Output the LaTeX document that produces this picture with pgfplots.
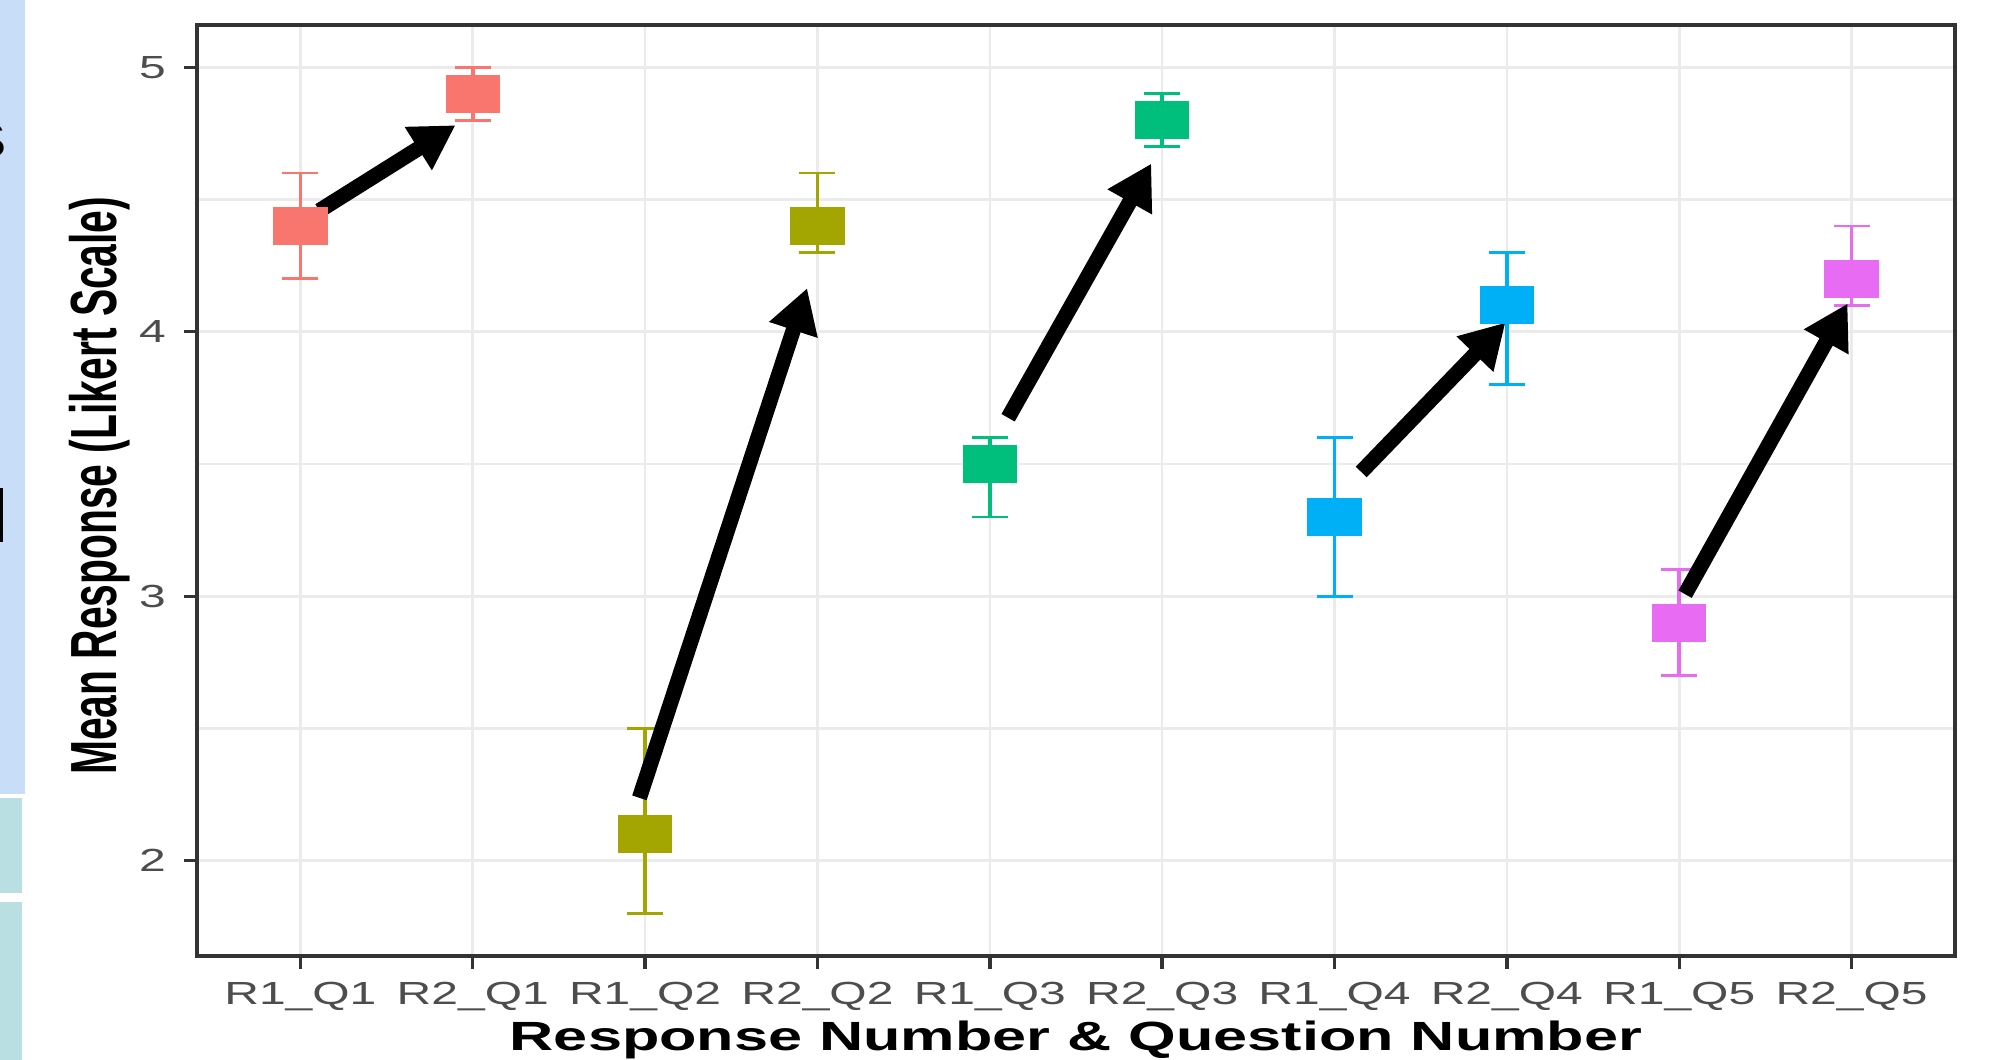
\documentclass[border=0pt]{standalone}
\usepackage{fontspec}
\setmainfont{Liberation Sans}
\usepackage{graphicx}
\usepackage{pgfplots}
\pgfplotsset{compat=1.18}
\usetikzlibrary{arrows.meta}
\definecolor{cQ1}{HTML}{F8766D}
\definecolor{cQ2}{HTML}{A3A500}
\definecolor{cQ3}{HTML}{00BF7D}
\definecolor{cQ4}{HTML}{00B0F6}
\definecolor{cQ5}{HTML}{E76BF3}
\definecolor{gridgrey}{HTML}{EBEBEB}
\definecolor{axisgrey}{HTML}{333333}
\definecolor{tickgrey}{HTML}{4D4D4D}
\definecolor{stripblue}{HTML}{C7DDF8}
\definecolor{stripteal}{HTML}{B9DFE2}
\newcommand{\SX}[1]{\scalebox{1.5}[1]{#1}}
\pgfplotsset{
  ebar/.style={forget plot, draw=none, mark=none,
    error bars/.cd, y dir=both, y explicit,
    error bar style={draw=#1, line width=0.9pt},
    error mark=-,
    error mark options={rotate=90, draw=#1, mark size=4.5pt, line width=0.7pt}},
  pt/.style={only marks, color=#1, mark=square*, mark size=4.6pt,
    mark options={xscale=1.45, fill=#1, draw=#1, line width=0pt}},
  arr/.style={black, line width=3.8pt, -{Triangle[length=11pt,width=12pt]}, mark=none}
}
\begin{document}
\begin{tikzpicture}
\path[use as bounding box] (0,0) rectangle (498pt,265pt);
\fill[stripblue] (0,66.5pt) rectangle (6.25pt,265pt);
\fill[stripteal] (0,41.75pt) rectangle (5.5pt,65.5pt);
\fill[stripteal] (0,0) rectangle (5.5pt,39.5pt);
\node[anchor=east, inner sep=0pt, font=\fontsize{18}{20}\selectfont\bfseries] at (2.4pt,230pt) {\scalebox{1.5}[1]{s}};
\fill[black] (0,129.5pt) rectangle (0.8pt,143pt);
\begin{axis}[
  at={(49.25pt,26pt)}, anchor=south west,
  scale only axis, width=439.5pt, height=232.75pt,
  xmin=-0.6, xmax=9.6, ymin=1.64, ymax=5.16,
  xtick={0,1,2,3,4,5,6,7,8,9},
  xticklabels={\SX{R1\_Q1},\SX{R2\_Q1},\SX{R1\_Q2},\SX{R2\_Q2},\SX{R1\_Q3},\SX{R2\_Q3},\SX{R1\_Q4},\SX{R2\_Q4},\SX{R1\_Q5},\SX{R2\_Q5}},
  ytick={2,3,4,5},
  yticklabels={\SX{2},\SX{3},\SX{4},\SX{5}},
  minor ytick={2.5,3.5,4.5},
  grid=both,
  major grid style={draw=gridgrey, line width=0.65pt},
  minor grid style={draw=gridgrey, line width=0.65pt},
  axis line style={draw=axisgrey, line width=0.85pt},
  tick style={draw=axisgrey, line width=0.85pt},
  tick align=outside, major tick length=3.2pt, minor tick length=0pt,
  xtick pos=bottom, ytick pos=left,
  ticklabel style={font=\fontsize{8}{9}\selectfont, text=tickgrey},
  xticklabel style={anchor=base, inner sep=0pt, yshift=-9pt},
  yticklabel style={anchor=east, inner sep=0pt, xshift=-4.4pt},
  xlabel={\scalebox{1.5}[1]{\bfseries Response Number \& Question Number}},
  ylabel={\scalebox{1}[1.6]{\bfseries Mean Response (Likert Scale)}},
  label style={font=\fontsize{10.2}{12}\selectfont, text=black},
  xlabel style={at={(axis description cs:0.5,0)}, anchor=base, inner sep=0pt, yshift=-23.5pt},
  ylabel style={at={(axis description cs:-0.0555,0.505)}, anchor=center, inner sep=0pt},
]
% error bars
\addplot[ebar=cQ1] coordinates {(0,4.4) += (0,0.2) -= (0,0.2) (1,4.9) += (0,0.1) -= (0,0.1)};
\addplot[ebar=cQ2] coordinates {(2,2.1) += (0,0.4) -= (0,0.3) (3,4.4) += (0,0.2) -= (0,0.1)};
\addplot[ebar=cQ3] coordinates {(4,3.5) += (0,0.1) -= (0,0.2) (5,4.8) += (0,0.1) -= (0,0.1)};
\addplot[ebar=cQ4] coordinates {(6,3.3) += (0,0.3) -= (0,0.3) (7,4.1) += (0,0.2) -= (0,0.3)};
\addplot[ebar=cQ5] coordinates {(8,2.9) += (0,0.2) -= (0,0.2) (9,4.2) += (0,0.2) -= (0,0.1)};
% means
\addplot[pt=cQ1] coordinates {(0,4.4) (1,4.9)};
\addplot[pt=cQ2] coordinates {(2,2.1) (3,4.4)};
\addplot[pt=cQ3] coordinates {(4,3.5) (5,4.8)};
\addplot[pt=cQ4] coordinates {(6,3.3) (7,4.1)};
\addplot[pt=cQ5] coordinates {(8,2.9) (9,4.2)};
% arrows
\addplot[arr] coordinates {(0.11,4.458) (0.90,4.781)};
\addplot[arr] coordinates {(1.967,2.238) (2.94,4.165)};
\addplot[arr] coordinates {(4.106,3.675) (4.937,4.636)};
\addplot[arr] coordinates {(6.155,3.470) (6.992,4.035)};
\addplot[arr] coordinates {(8.034,3.008) (8.977,4.107)};
\end{axis}
\end{tikzpicture}
\end{document}
